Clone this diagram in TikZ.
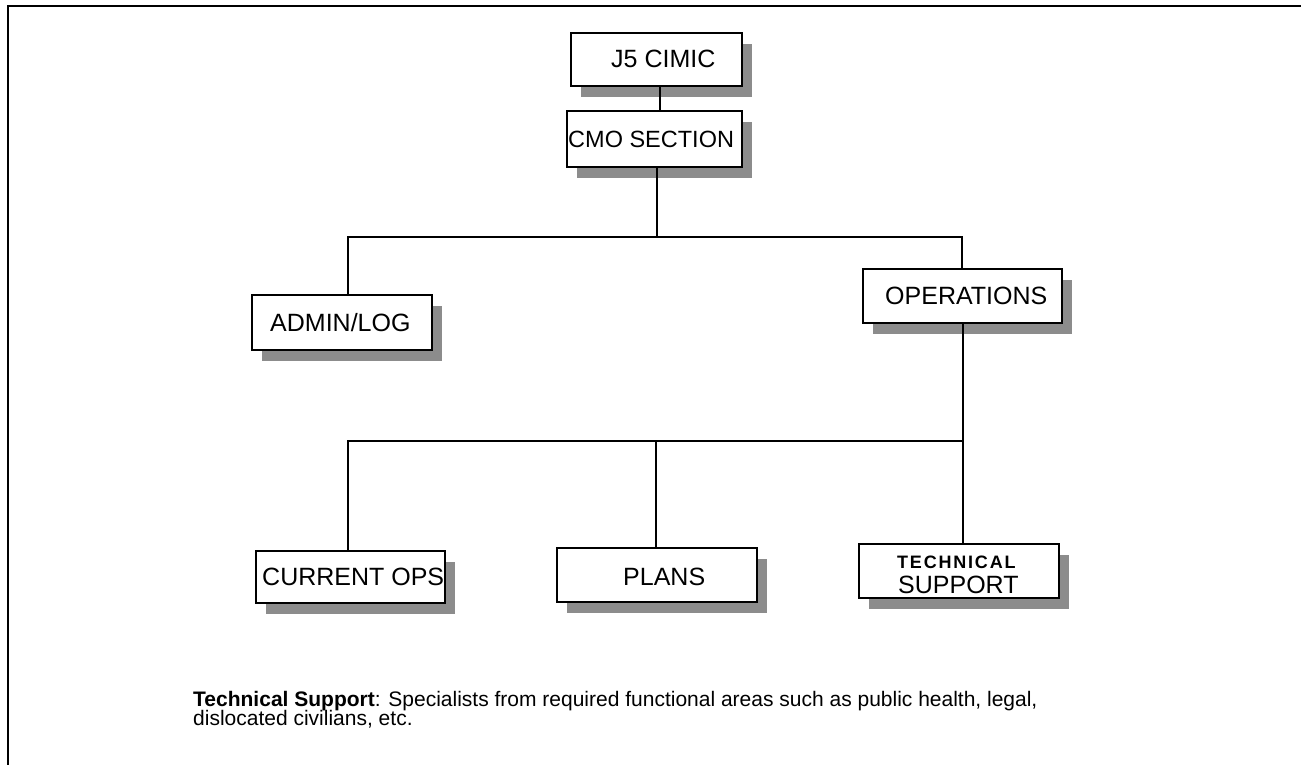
\documentclass[tikz,border=0pt]{standalone}
\usepackage{fontspec}
\setmainfont{Liberation Sans}
\usetikzlibrary{shadows}
\begin{document}
\begin{tikzpicture}[x=1pt,y=-1pt,
  box/.style={draw=black,line width=2pt,fill=white,inner sep=0pt,
    drop shadow={shadow xshift=10pt,shadow yshift=-11pt,fill=black!45,opacity=1}},
  lbl/.style={anchor=base west,inner sep=0pt,font=\fontsize{25}{30}\selectfont},
  note/.style={anchor=base west,inner sep=0pt,font=\fontsize{21}{24}\selectfont},
  conn/.style={line width=2pt,line cap=rect}]
\useasboundingbox (0,0) rectangle (1301,765);

% outer frame (top and left edges)
\coordinate (fa) at (1301,6);
\coordinate (fb) at (8,6);
\coordinate (fc) at (8,765);
\draw[line width=2.5pt] (fa) -- (fb) -- (fc);

% boxes
\node[box,minimum width=171pt,minimum height=53pt] (j5)    at (656.5,59.5) {};
\node[box,minimum width=175pt,minimum height=56pt] (cmo)   at (654.5,139) {};
\node[box,minimum width=180pt,minimum height=55pt] (admin) at (342,322.5) {};
\node[box,minimum width=199pt,minimum height=54pt] (ops)   at (962.5,296) {};
\node[box,minimum width=189pt,minimum height=52pt] (cur)   at (350.5,577) {};
\node[box,minimum width=200pt,minimum height=54pt] (plans) at (657,575) {};
\node[box,minimum width=200pt,minimum height=54pt] (tech)  at (959,571) {};

% box labels
\node[lbl] (j5t)    at (611,68)  {J5 CIMIC};
\node[lbl,font=\fontsize{23.5}{28}\selectfont] (cmot) at (568,147) {CMO SECTION};
\node[lbl] (admint) at (270,331) {ADMIN/LOG};
\node[lbl] (opst)   at (885,304) {OPERATIONS};
\node[lbl] (curt)   at (262,585) {CURRENT OPS};
\node[lbl] (planst) at (623,585) {PLANS};
\node[lbl,font=\fontsize{18}{20}\selectfont\bfseries\addfontfeature{LetterSpace=10}] (techa) at (897,568) {TECHNICAL};
\node[lbl] (techb)  at (898,593) {SUPPORT};

% connector junctions
\coordinate (jx)  at (660,0);
\coordinate (t1)  at (657,237);
\coordinate (t1l) at (348,237);
\coordinate (t1r) at (962,237);
\coordinate (t2)  at (963,441);
\coordinate (t2l) at (348,441);
\coordinate (t2m) at (656,441);

% connectors
\draw[conn] (j5.south -| jx) -- (cmo.north -| jx);
\draw[conn] (cmo.south -| t1) -- (t1);
\draw[conn] (t1l |- admin.north) -- (t1l) -- (t1r) -- (t1r |- ops.north);
\draw[conn] (ops.south -| t2) -- (t2);
\draw[conn] (t2l |- cur.north) -- (t2l) -- (t2) -- (t2 |- tech.north);
\draw[conn] (t2m) -- (t2m |- plans.north);

% footnote
\node[note] (n1) at (193,706) {\textbf{Technical Support}: Specialists from required functional areas such as public health, legal,};
\node[note] (n2) at (193,725) {dislocated civilians, etc.};
\end{tikzpicture}
\end{document}
